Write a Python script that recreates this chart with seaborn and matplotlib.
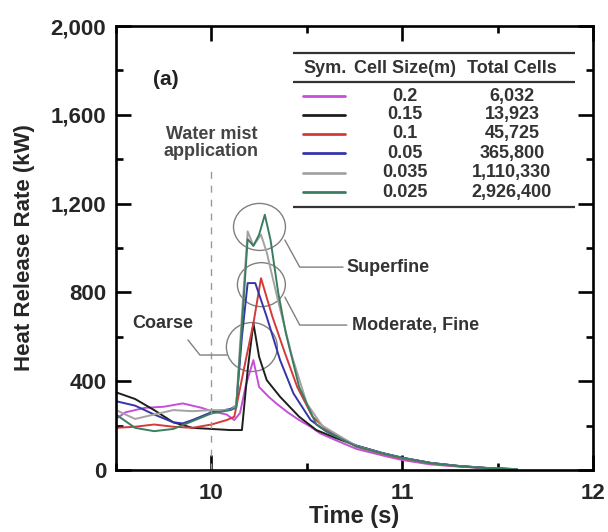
import numpy as np
import pandas as pd
import matplotlib
matplotlib.use("Agg")
import matplotlib.pyplot as plt
import seaborn as sns
from matplotlib.patches import Ellipse
from matplotlib.ticker import MultipleLocator

# ---- data ----
cell_sizes = ["0.2", "0.15", "0.1", "0.05", "0.035", "0.025"]
total_cells = ["6,032", "13,923", "45,725", "365,800", "1,110,330", "2,926,400"]
line_colors = ["#c64fd9", "#1e1e1e", "#d43a3a", "#3535a8", "#a3a3a3", "#3c7d60"]

t_02 = [9.5, 9.55, 9.65, 9.75, 9.85, 9.95, 10.0, 10.08, 10.12, 10.15, 10.18, 10.22, 10.25, 10.3,
        10.34, 10.4, 10.46, 10.52, 10.57, 10.65, 10.76, 10.9, 11.0, 11.15, 11.3, 11.45, 11.6]
hrr_02 = [230, 260, 280, 285, 300, 280, 265, 250, 225, 257, 380, 495, 374, 330,
          300, 260, 225, 195, 165, 135, 95, 65, 45, 25, 15, 8, 3]

t_015 = [9.5, 9.6, 9.7, 9.8, 9.9, 10.0, 10.1, 10.16, 10.19, 10.22, 10.25, 10.29, 10.36, 10.46,
         10.55, 10.65, 10.76, 10.9, 11.0, 11.15, 11.3, 11.45, 11.6]
hrr_015 = [350, 320, 270, 215, 190, 185, 180, 180, 450, 662, 510, 405, 330, 240,
           180, 145, 110, 75, 55, 32, 18, 9, 4]

t_01 = [9.5, 9.6, 9.7, 9.8, 9.9, 10.0, 10.08, 10.12, 10.18, 10.22, 10.26, 10.32, 10.38, 10.45,
        10.53, 10.6, 10.76, 10.9, 11.0, 11.15, 11.3, 11.45, 11.6]
hrr_01 = [190, 195, 205, 195, 190, 205, 225, 240, 495, 660, 864, 690, 540, 374,
          240, 185, 105, 72, 52, 30, 17, 8, 3]

t_005 = [9.5, 9.6, 9.7, 9.8, 9.85, 9.9, 10.0, 10.1, 10.13, 10.16, 10.19, 10.23, 10.29, 10.36,
         10.43, 10.52, 10.6, 10.76, 10.9, 11.0, 11.15, 11.3, 11.45, 11.6]
hrr_005 = [310, 290, 250, 215, 210, 225, 260, 275, 290, 600, 842, 842, 690, 495,
           345, 225, 175, 110, 76, 56, 32, 18, 9, 4]

t_0035 = [9.5, 9.6, 9.7, 9.8, 9.9, 10.0, 10.1, 10.13, 10.16, 10.19, 10.22, 10.26, 10.29, 10.35,
          10.42, 10.5, 10.58, 10.76, 10.9, 11.0, 11.15, 11.3, 11.45, 11.6]
hrr_0035 = [270, 230, 250, 270, 265, 270, 270, 290, 700, 1075, 1010, 1060, 980, 760,
            520, 300, 200, 108, 74, 54, 31, 17, 8, 3]

t_0025 = [9.5, 9.6, 9.7, 9.8, 9.9, 10.0, 10.1, 10.13, 10.16, 10.19, 10.22, 10.25, 10.28, 10.31,
          10.35, 10.39, 10.46, 10.55, 10.62, 10.76, 10.9, 11.0, 11.15, 11.3, 11.45, 11.6]
hrr_0025 = [250, 190, 175, 185, 220, 255, 270, 280, 650, 1040, 1010, 1060, 1150, 1036,
            800, 617, 374, 205, 165, 106, 74, 54, 31, 17, 8, 3]

y_ticks = [0, 400, 800, 1200, 1600, 2000]
y_ticklabels = ["0", "400", "800", "1,200", "1,600", "2,000"]
x_ticks = [10, 11, 12]

mist_t = 10.0          # water mist application time
mist_top = 1365

frames = []
for cs, t, q in zip(cell_sizes,
                    [t_02, t_015, t_01, t_005, t_0035, t_0025],
                    [hrr_02, hrr_015, hrr_01, hrr_005, hrr_0035, hrr_0025]):
    frames.append(pd.DataFrame({"Time": t, "HRR": q, "Cell": cs}))
df = pd.concat(frames, ignore_index=True)

sns.set_style("ticks")
plt.rcParams['font.family'] = ['Liberation Sans', 'DejaVu Sans']
plt.rcParams['font.weight'] = 'bold'

fig = plt.figure(figsize=(6.08, 5.32), dpi=100)
ax = fig.add_axes([0.1908, 0.1165, 0.7845, 0.8346])

sns.lineplot(data=df, x="Time", y="HRR", hue="Cell", hue_order=cell_sizes,
             palette=dict(zip(cell_sizes, line_colors)), estimator=None,
             sort=True, linewidth=1.4, legend=False, ax=ax)

ax.set_xlim(9.5, 12)
ax.set_ylim(0, 2000)
ax.set_xticks(x_ticks)
ax.set_xticklabels([str(v) for v in x_ticks])
ax.set_yticks(y_ticks)
ax.set_yticklabels(y_ticklabels)
ax.xaxis.set_minor_locator(MultipleLocator(0.5))
ax.yaxis.set_minor_locator(MultipleLocator(200))
ax.tick_params(which="both", direction="in", top=True, right=True, width=1.9, color="black")
ax.tick_params(which="major", length=11, labelsize=16, pad=7)
ax.tick_params(axis="x", which="major", pad=9)
ax.tick_params(which="minor", length=5)
for lab in ax.get_xticklabels() + ax.get_yticklabels():
    lab.set_fontweight("bold")
for sp in ax.spines.values():
    sp.set_linewidth(1.9)
    sp.set_color("black")

ax.set_xlabel("Time (s)", fontsize=17, fontweight="bold", labelpad=1)
ax.set_ylabel("Heat Release Rate (kW)", fontsize=16, fontweight="bold", labelpad=11)

# water mist marker
ax.plot([mist_t, mist_t], [0, mist_top], color="#9a9a9a", lw=1, ls=(0, (5, 5)))
ax.text(mist_t, 1475, "Water mist\napplication", ha="center", va="center",
        fontsize=13, fontweight="bold", color="#444444", linespacing=1.0)
ax.text(0.105, 0.88, "(a)", transform=ax.transAxes, ha="center", va="center",
        fontsize=15, fontweight="bold", color="#222222")

# circles and leaders
circ_kw = dict(fill=False, edgecolor="#808080", lw=1.0)
ax.add_patch(Ellipse((10.252, 1095), 52 / 191, 47 / 0.222, **circ_kw))
ax.add_patch(Ellipse((10.262, 835), 48 / 191, 44 / 0.222, **circ_kw))
ax.add_patch(Ellipse((10.212, 554), 51 / 191, 49 / 0.222, **circ_kw))
lead_kw = dict(color="#808080", lw=1.0)
ax.plot([10.385, 10.463, 10.69], [1036, 914, 914], **lead_kw)
ax.plot([10.385, 10.463, 10.71], [779, 653, 653], **lead_kw)
ax.plot([9.877, 9.94, 10.081], [586, 518, 518], **lead_kw)
ann_kw = dict(fontsize=13, fontweight="bold", color="#333333", va="center")
ax.text(10.71, 914, "Superfine", ha="left", **ann_kw)
ax.text(10.735, 653, "Moderate, Fine", ha="left", **ann_kw)
ax.text(9.746, 662, "Coarse", ha="center", **ann_kw)

# legend table
tab_kw = dict(transform=ax.transAxes, color="#333333", lw=1.6, solid_capstyle="butt")
ax.plot([0.371, 0.962], [0.939, 0.939], **tab_kw)
ax.plot([0.371, 0.962], [0.874, 0.874], **tab_kw)
ax.plot([0.371, 0.962], [0.592, 0.592], **tab_kw)
hdr_kw = dict(transform=ax.transAxes, fontsize=13, fontweight="bold", color="#333333", va="center")
ax.text(0.392, 0.905, "Sym.", ha="left", **hdr_kw)
ax.text(0.606, 0.905, "Cell Size(m)", ha="center", **hdr_kw)
ax.text(0.830, 0.905, "Total Cells", ha="center", **hdr_kw)
row_y = [0.842, 0.800, 0.757, 0.714, 0.669, 0.626]
for yy, cs, tc, col in zip(row_y, cell_sizes, total_cells, line_colors):
    ax.plot([0.392, 0.480], [yy, yy], transform=ax.transAxes, color=col, lw=2)
    ax.text(0.606, yy, cs, ha="center", **hdr_kw)
    ax.text(0.830, yy, tc, ha="center", **hdr_kw)

fig.savefig("out.png", dpi=100)
